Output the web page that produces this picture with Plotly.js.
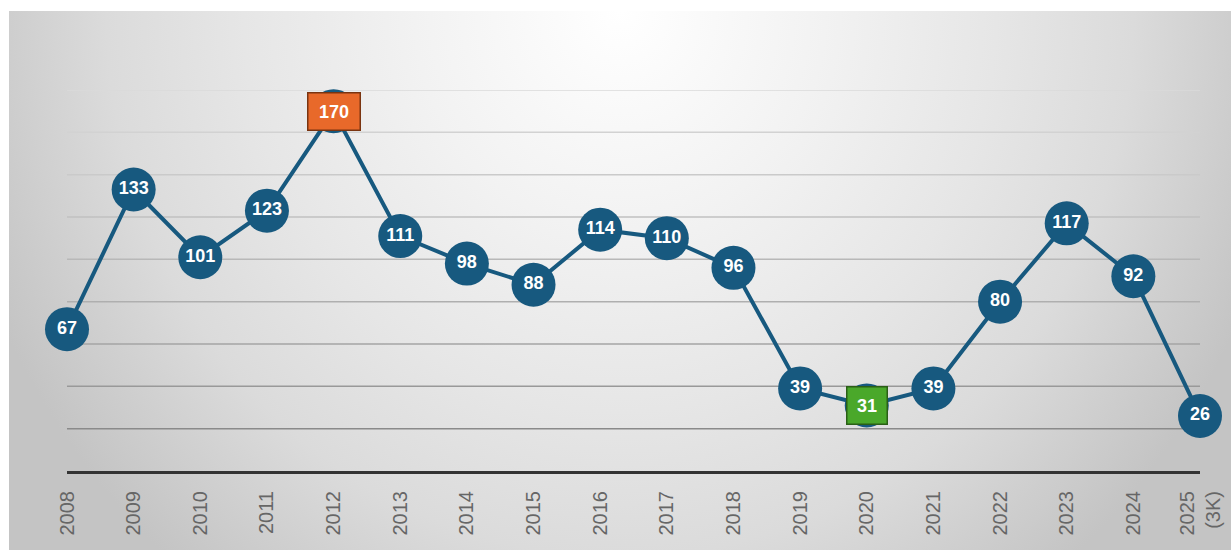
<!DOCTYPE html>
<html>
<head>
<meta charset="utf-8">
<script src="https://cdn.plot.ly/plotly-3.0.1.min.js"></script>
<style>
  html, body { margin: 0; padding: 0; background: #ffffff; }
  #wrap { position: relative; width: 1231px; height: 550px; overflow: hidden; }
  #bg { position: absolute; left: 9px; top: 11px; width: 1222px; height: 539px;
        background: radial-gradient(ellipse 56% 135% at 50% 0%, #ffffff 0%, #f2f2f2 30%, #e6e6e6 55%, #dbdbdb 75%, #c4c4c4 100%); }
  #chart { position: absolute; left: 0; top: 0; width: 1231px; height: 550px; }
</style>
</head>
<body>
<div id="wrap"><div id="bg"></div><div id="chart"></div></div>
<script>
// Data
const years = [2008, 2009, 2010, 2011, 2012, 2013, 2014, 2015, 2016, 2017, 2018, 2019, 2020, 2021, 2022, 2023, 2024, 2025];
const values = [67, 133, 101, 123, 170, 111, 98, 88, 114, 110, 96, 39, 31, 39, 80, 117, 92, 26];
const tickLabels = ["2008", "2009", "2010", "2011", "2012", "2013", "2014", "2015", "2016", "2017", "2018", "2019", "2020", "2021", "2022", "2023", "2024", "2025<br>(3K)"];
const gridValues = [20, 40, 60, 80, 100, 120, 140, 160, 180];
const partialLast = true; // 2025 covers only three quarters

// Highlight max / min among complete years
const fullCount = partialLast ? values.length - 1 : values.length;
const fullVals = values.slice(0, fullCount);
const maxIdx = fullVals.indexOf(Math.max(...fullVals));
const minIdx = fullVals.indexOf(Math.min(...fullVals));

const blue = '#17597f';

const trace = {
  x: years,
  y: values,
  type: 'scatter',
  mode: 'lines+markers+text',
  text: values.map(String),
  textposition: 'middle center',
  textfont: { family: 'Liberation Sans, Arial, sans-serif', size: 18, color: '#ffffff', weight: 'bold' },
  line: { color: blue, width: 4 },
  marker: { size: 44, color: blue, line: { width: 0 } },
  cliponaxis: false,
  hoverinfo: 'x+y'
};

function gridColor(i, n) {
  const t = i / (n - 1); // 0 = bottom line, 1 = top line
  const dark = 138, light = 218;
  const c = Math.round(dark + (light - dark) * Math.pow(t, 0.8));
  return 'rgb(' + c + ',' + c + ',' + c + ')';
}

const shapes = gridValues.map((v, i) => ({
  type: 'line', xref: 'paper', x0: 0, x1: 1, yref: 'y', y0: v, y1: v,
  line: { color: gridColor(i, gridValues.length), width: 1.5 },
  layer: 'below'
}));

function boxAnn(idx, fill, border) {
  const label = String(values[idx]);
  return {
    x: years[idx], y: values[idx], xref: 'x', yref: 'y',
    text: '<b>' + label + '</b>', showarrow: false,
    font: { family: 'Liberation Sans, Arial, sans-serif', size: 18, color: '#ffffff' },
    bgcolor: fill, bordercolor: border, borderwidth: 1.5, borderpad: 8,
    width: 12 * label.length - 1,
    xanchor: 'center', yanchor: 'middle'
  };
}

const layout = {
  width: 1231, height: 550,
  margin: { l: 67, r: 31, t: 90, b: 79 },
  paper_bgcolor: 'rgba(0,0,0,0)',
  plot_bgcolor: 'rgba(0,0,0,0)',
  showlegend: false,
  xaxis: {
    type: 'linear', range: [2008, 2025],
    tickvals: years, ticktext: tickLabels, tickangle: -90,
    showgrid: false, zeroline: false,
    showline: true, linecolor: '#333333', linewidth: 3,
    ticks: '', ticklabelstandoff: 9,
    tickfont: { family: 'Liberation Sans, Arial, sans-serif', size: 20, color: '#666666' }
  },
  yaxis: {
    range: [0, 180], showgrid: false, zeroline: false, showticklabels: false, ticks: ''
  },
  shapes: shapes,
  annotations: [
    boxAnn(maxIdx, '#e8692a', '#7a3410'),
    boxAnn(minIdx, '#4aa82a', '#2a5f16')
  ]
};

Plotly.newPlot('chart', [trace], layout, { displayModeBar: false, staticPlot: true });
</script>
</body>
</html>
